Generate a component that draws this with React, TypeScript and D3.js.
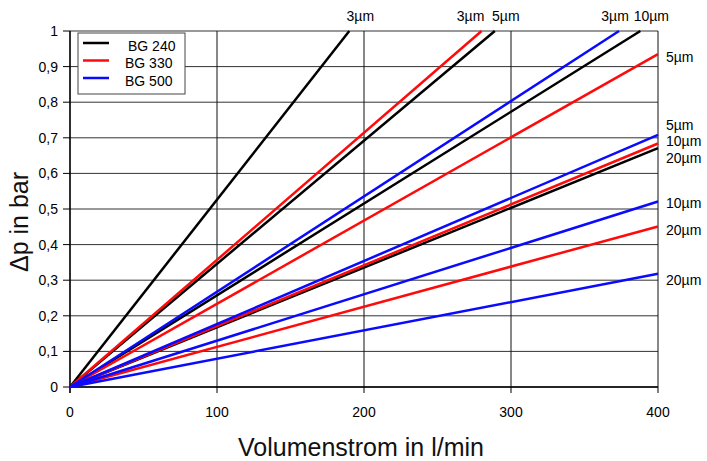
import React from 'react';
import * as d3 from 'd3';

// ---- data ----
const xTicks = [0, 100, 200, 300, 400];
const yTicks = [0, 0.1, 0.2, 0.3, 0.4, 0.5, 0.6, 0.7, 0.8, 0.9, 1];
const seriesNames = ['BG 240', 'BG 330', 'BG 500'];
const grades = ['3µm', '5µm', '10µm', '20µm'];
// end point [flow, dp] of each straight line starting at origin
const bg240End: [number, number][] = [[190, 1], [289, 1], [388, 1], [400, 0.671]];
const bg330End: [number, number][] = [[280, 1], [400, 0.935], [400, 0.684], [400, 0.451]];
const bg500End: [number, number][] = [[373.5, 1], [400, 0.708], [400, 0.521], [400, 0.318]];
const seriesEnds = [bg240End, bg330End, bg500End];

// ---- style ----
const colors = ['#000000', '#ff0a0a', '#0a0aff'];
// label offsets [dx, dy(center)] relative to end point
const labelOffsets: Record<string, [number, number]> = {
  '0-0': [11, -15], '1-0': [-11, -15], '0-1': [11, -15], '2-0': [-4, -15], '0-2': [11, -15],
  '1-1': [8, 3], '2-1': [8, -10], '1-2': [8, -2], '0-3': [8, 9.5],
  '2-2': [8, 1], '1-3': [8, 3.5], '2-3': [8, 6],
};

const W = 707, H = 461;
const M = { left: 70, right: 658, top: 31, bottom: 387 };
const font = '"Liberation Sans", Arial, Helvetica, sans-serif';

export default function App() {
  const x = d3.scaleLinear().domain([0, 400]).range([M.left, M.right]);
  const y = d3.scaleLinear().domain([0, 1]).range([M.bottom, M.top]);
  const line = d3.line<[number, number]>().x(d => x(d[0])).y(d => y(d[1]));
  const fmt = (v: number) => (Math.round(v * 10) / 10).toString().replace('.', ',');

  return (
    <svg width={W} height={H} style={{ position: 'absolute', left: 0, top: 0, background: '#fff' }}
      fontFamily={font}>
      <rect width={W} height={H} fill="#fff" />
      {/* grid */}
      {yTicks.map(t => (
        <line key={'gy' + t} x1={M.left} x2={M.right} y1={y(t)} y2={y(t)} stroke="#333" strokeWidth={1} />
      ))}
      {xTicks.map(t => (
        <line key={'gx' + t} x1={x(t)} x2={x(t)} y1={M.top} y2={M.bottom} stroke="#111" strokeWidth={1} />
      ))}
      {/* ticks */}
      {yTicks.map(t => (
        <line key={'ty' + t} x1={M.left - 7} x2={M.left} y1={y(t)} y2={y(t)} stroke="#000" strokeWidth={1} />
      ))}
      {xTicks.map(t => (
        <line key={'tx' + t} x1={x(t)} x2={x(t)} y1={M.bottom} y2={M.bottom + 6} stroke="#000" strokeWidth={1} />
      ))}
      <line x1={M.left} x2={M.left} y1={M.top} y2={M.bottom + 6} stroke="#000" strokeWidth={1.3} />
      <line x1={M.left} x2={M.right} y1={M.bottom} y2={M.bottom} stroke="#000" strokeWidth={1.3} />
      {/* tick labels */}
      {yTicks.map(t => (
        <text key={'ly' + t} x={58} y={y(t) + 5} textAnchor="end" fontSize={14} fill="#000">{fmt(t)}</text>
      ))}
      {xTicks.map(t => (
        <text key={'lx' + t} x={x(t)} y={417} textAnchor="middle" fontSize={14} fill="#000">{t}</text>
      ))}
      {/* axis titles */}
      <text x={361} y={456} textAnchor="middle" fontSize={25} fill="#111">Volumenstrom in l/min</text>
      <text transform="translate(28,222) rotate(-90)" textAnchor="middle" fontSize={25} fill="#111">Δp in bar</text>
      {/* lines */}
      {seriesEnds.map((ends, si) => ends.map((e, gi) => (
        <path key={`l${si}-${gi}`} d={line([[0, 0], e]) || ''} fill="none" stroke={colors[si]} strokeWidth={2.5} />
      )))}
      {/* labels */}
      {seriesEnds.map((ends, si) => ends.map((e, gi) => {
        const off = labelOffsets[`${si}-${gi}`];
        const top = e[1] >= 1;
        return (
          <text key={`t${si}-${gi}`} x={x(e[0]) + off[0]} y={y(e[1]) + off[1] + 5}
            textAnchor={top ? 'middle' : 'start'} fontSize={14} fill="#000">{grades[gi]}</text>
        );
      }))}
      {/* legend */}
      <rect x={78} y={33} width={107} height={61} fill="#fff" stroke="#444" strokeWidth={1} />
      {seriesNames.map((n, i) => (
        <g key={n}>
          <line x1={83} x2={109} y1={43 + i * 17.5} y2={43 + i * 17.5} stroke={colors[i]} strokeWidth={2.5} />
          <text x={i === 0 ? 128 : 125} y={50.5 + i * 17.5} fontSize={14} fill="#000">{n}</text>
        </g>
      ))}
    </svg>
  );
}
